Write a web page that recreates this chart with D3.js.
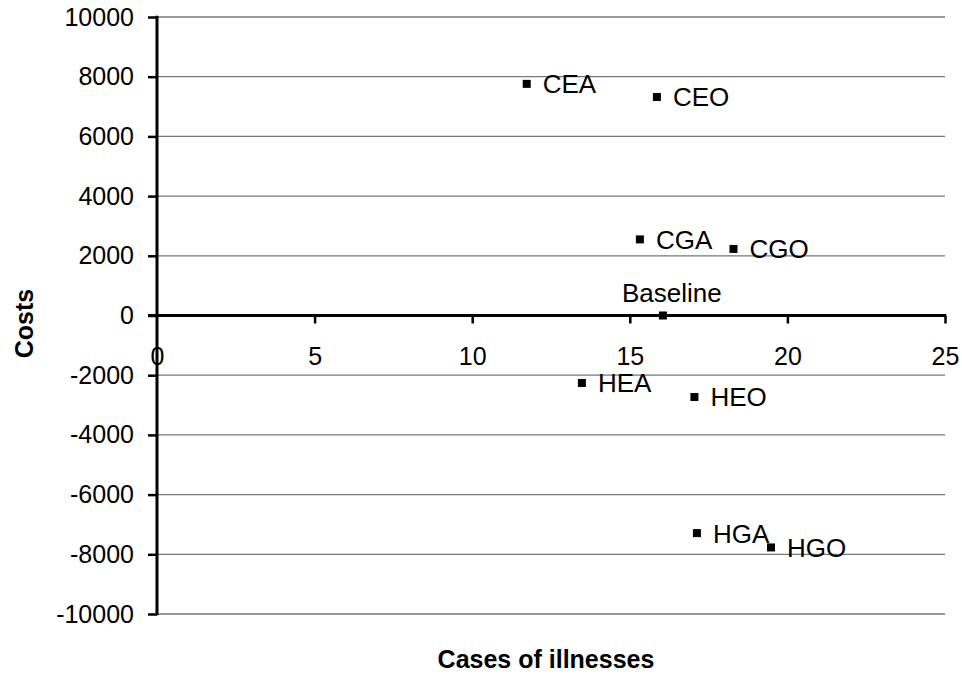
<!DOCTYPE html>
<html>
<head>
<meta charset="utf-8">
<script src="https://cdn.jsdelivr.net/npm/d3@7"></script>
<style>
  html, body { margin: 0; padding: 0; background: #fff; }
  svg { display: block; font-family: "Liberation Sans", Arial, sans-serif; }
</style>
</head>
<body>
<svg id="chart" width="962" height="674"></svg>
<script>
const pointLabels = ["CEA", "CEO", "CGA", "CGO", "Baseline", "HEA", "HEO", "HGA", "HGO"];
const casesValues = [11.73, 15.86, 15.32, 18.29, 16.05, 13.48, 17.05, 17.13, 19.48];
const costValues  = [7760, 7320, 2550, 2230, 0, -2260, -2730, -7290, -7770];
const xTicks = [0, 5, 10, 15, 20, 25];
const yTicks = [-10000, -8000, -6000, -4000, -2000, 0, 2000, 4000, 6000, 8000, 10000];
const xTitle = "Cases of illnesses";
const yTitle = "Costs";

const points = pointLabels.map((l, i) => ({ label: l, x: casesValues[i], y: costValues[i] }));

const svg = d3.select("#chart");
const x = d3.scaleLinear().domain([0, 25]).range([157, 945]);
const y = d3.scaleLinear().domain([-10000, 10000]).range([614, 17]);

// gridlines
svg.append("g").selectAll("line")
  .data(yTicks.filter(v => v !== 0))
  .join("line")
  .attr("x1", x(0)).attr("x2", x(25))
  .attr("y1", d => y(d)).attr("y2", d => y(d))
  .attr("stroke", "#777").attr("stroke-width", 1.3);

// y axis
const yAxis = svg.append("g")
  .attr("transform", `translate(${x(0)},0)`)
  .call(d3.axisLeft(y).tickValues(yTicks).tickSize(9).tickSizeOuter(0).tickPadding(14).tickFormat(d => String(d)));
yAxis.select(".domain").remove();
yAxis.selectAll(".tick line").attr("stroke", "#000").attr("stroke-width", 2.5);
yAxis.selectAll(".tick text").attr("font-size", 25).attr("fill", "#000")
  .attr("font-family", "'Liberation Sans', Arial, sans-serif");
svg.append("line")
  .attr("x1", x(0)).attr("x2", x(0))
  .attr("y1", y(10000) - 1.2).attr("y2", y(-10000) + 1.2)
  .attr("stroke", "#000").attr("stroke-width", 3);

// x axis at y=0
const xAxis = svg.append("g")
  .attr("transform", `translate(0,${y(0)})`)
  .call(d3.axisBottom(x).tickValues(xTicks).tickSize(8).tickSizeOuter(0).tickPadding(24).tickFormat(d => String(d)));
xAxis.select(".domain").remove();
xAxis.selectAll(".tick line").attr("stroke", "#000").attr("stroke-width", 2.5);
xAxis.selectAll(".tick").filter(d => d === 0).select("line").remove();
xAxis.selectAll(".tick text").attr("font-size", 25).attr("fill", "#000")
  .attr("font-family", "'Liberation Sans', Arial, sans-serif");
svg.append("line")
  .attr("x1", x(0) - 9).attr("x2", x(25) + 1.2)
  .attr("y1", y(0)).attr("y2", y(0))
  .attr("stroke", "#000").attr("stroke-width", 3);

// markers
svg.append("g").selectAll("rect")
  .data(points)
  .join("rect")
  .attr("x", d => x(d.x) - 4).attr("y", d => y(d.y) - 4)
  .attr("width", 8).attr("height", 8)
  .attr("fill", "#000");

// labels
svg.append("g").selectAll("text")
  .data(points)
  .join("text")
  .attr("x", d => d.label === "Baseline" ? x(d.x) + 9 : x(d.x) + 16)
  .attr("y", d => d.label === "Baseline" ? y(d.y) - 13.5 : y(d.y) + 9.5)
  .attr("text-anchor", d => d.label === "Baseline" ? "middle" : "start")
  .attr("font-size", 26)
  .attr("fill", "#000")
  .text(d => d.label);

// axis titles
svg.append("text")
  .attr("x", 546).attr("y", 668)
  .attr("text-anchor", "middle")
  .attr("font-size", 25).attr("font-weight", "bold")
  .text(xTitle);
svg.append("text")
  .attr("transform", `translate(33,${y(0) + 8}) rotate(-90)`)
  .attr("text-anchor", "middle")
  .attr("font-size", 25).attr("font-weight", "bold")
  .text(yTitle);
</script>
</body>
</html>
